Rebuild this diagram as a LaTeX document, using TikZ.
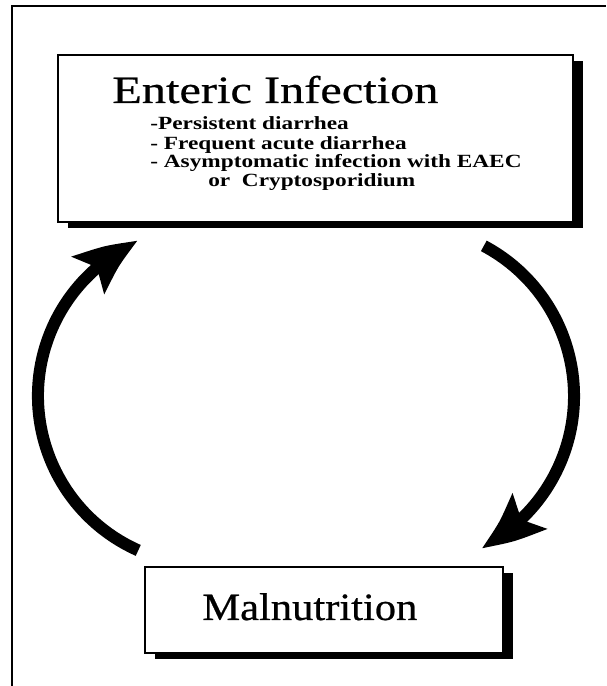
\documentclass[tikz,border=0pt]{standalone}
\usepackage{fontspec}
\setmainfont{Liberation Serif}
\newfontfamily\widefont[FakeStretch=1.25, FakeBold=0.6]{Liberation Serif}
\newfontfamily\itemfont[FakeStretch=1.25]{Liberation Serif}
\newfontfamily\malfont[FakeStretch=1.1, FakeBold=0.6]{Liberation Serif}
\usetikzlibrary{arrows.meta, bending, shadows}

\begin{document}
\begin{tikzpicture}[x=1cm, y=1cm,
  bx/.style={rectangle, draw=black, line width=0.7pt, fill=white,
    inner sep=0pt,
    drop shadow={shadow xshift=0.2cm, shadow yshift=-0.12cm,
      fill=black, opacity=1}},
  ttl/.style={font=\widefont\fontsize{22pt}{24pt}\selectfont,
    anchor=base west, inner sep=0pt},
  itm/.style={font=\itemfont\bfseries\fontsize{10.6pt}{10.8pt}\selectfont,
    anchor=base west, inner sep=0pt},
  cyc/.style={line width=0.24cm,
    -{Stealth[length=1.2cm, width=0.95cm, inset=0.22cm, bend]}}
]
\useasboundingbox (0,0) rectangle (12.12,13.72);
% outer frame
\draw[line width=1.4pt] (0.24,0) -- (0.24,13.6) -- (12.12,13.6);

% boxes
\node[bx, minimum width=10.3cm, minimum height=3.34cm]
  at (6.31, 10.95) (infect) {};
\node[bx, minimum width=7.16cm, minimum height=1.72cm]
  at (6.48, 1.52) (malnut) {};

% texts
\node[ttl] at (2.24, 11.66) (infectname) {Enteric Infection};
\foreach \yy/\xx/\txt [count=\i] in
  {11.12/3.0/{-Persistent diarrhea},
   10.72/3.0/{- Frequent acute diarrhea},
   10.36/3.0/{- Asymptomatic infection with EAEC},
   9.98/4.16/{or\ \ Cryptosporidium}}
  \node[itm] at (\xx, \yy) (item\i) {\txt};
\node[ttl, font=\malfont\fontsize{22pt}{24pt}\selectfont]
  at (4.04, 1.32) (malname) {Malnutrition};

% cycle arrows
\coordinate (ltail) at (2.765, 2.712);
\coordinate (rtail) at (9.676, 8.802);
\draw[cyc] (ltail) arc[start angle=246, end angle=114, radius=3.38];
\draw[cyc] (rtail) arc[start angle=62, end angle=-63, radius=3.4];
\end{tikzpicture}
\end{document}
